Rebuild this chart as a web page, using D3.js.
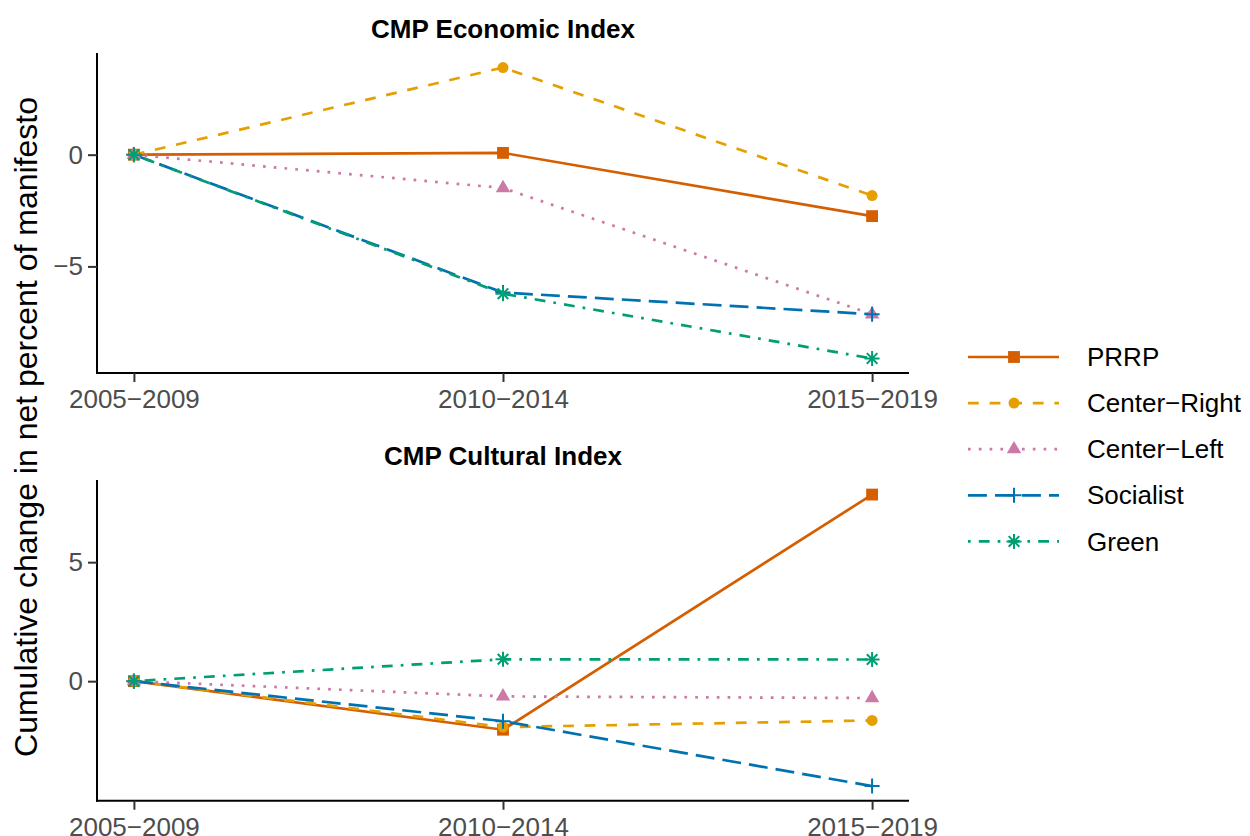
<!DOCTYPE html>
<html lang="en">
<head>
	<meta charset="UTF-8">
	<title>CMP indices</title>
	<style type="text/css">
		body {
			margin: 0;
			background: white;
			font-family: "Liberation Sans", Arial, Helvetica, sans-serif;
		}
		.axis text {
			font-size: 26px;
			fill: #4D4D4D;
			font-family: "Liberation Sans", Arial, Helvetica, sans-serif;
		}
		.axis .domain {
			stroke: black;
			stroke-width: 2px;
		}
		.axis .tick line {
			stroke: #333333;
			stroke-width: 2px;
		}
		.series {
			fill: none;
			stroke-width: 2.7px;
			stroke-linecap: butt;
		}
	</style>
	<script src="https://d3js.org/d3.v7.min.js"></script>
</head>
<body>
<script type="text/javascript">
	// data
	var periods = ['2005\u22122009', '2010\u22122014', '2015\u22122019'];
	var parties = ['PRRP', 'Center\u2212Right', 'Center\u2212Left', 'Socialist', 'Green'];
	var colors = ['#D55E00', '#E69F00', '#CC79A7', '#0072B2', '#009E73'];
	var shapes = ['square', 'circle', 'triangle', 'plus', 'asterisk'];
	var dashes = ['none', '4 4', '1 3', '7 3', '1 3 4 3'];

	var econPRRP = [0, 0.08, -2.75];
	var econCenterRight = [0, 3.9, -1.83];
	var econCenterLeft = [0, -1.49, -7.14];
	var econSocialist = [0, -6.17, -7.14];
	var econGreen = [0, -6.22, -9.12];

	var cultPRRP = [0, -2.04, 7.84];
	var cultCenterRight = [0, -1.93, -1.65];
	var cultCenterLeft = [0, -0.64, -0.71];
	var cultSocialist = [0, -1.68, -4.41];
	var cultGreen = [0, 0.92, 0.91];

	var econTicks = [-5, 0];
	var cultTicks = [0, 5];

	var lwd = 2.7;

	var fullWidth = 1250, fullHeight = 836;
	var svg = d3.select('body').append('svg')
		.attr('width', fullWidth)
		.attr('height', fullHeight);

	var panelLeft = 97, panelRight = 909;

	// continuous x (1..3) with 5% expansion like ggplot
	var xScale = d3.scaleLinear()
		.domain([0.9, 3.1])
		.range([panelLeft, panelRight]);

	var panels = [
		{title: 'CMP Economic Index', top: 53, bottom: 373,
		 series: [econPRRP, econCenterRight, econCenterLeft, econSocialist, econGreen], ticks: econTicks},
		{title: 'CMP Cultural Index', top: 480, bottom: 800.7,
		 series: [cultPRRP, cultCenterRight, cultCenterLeft, cultSocialist, cultGreen], ticks: cultTicks}
	];

	function symbolPath(shape) {
		if (shape === 'square') return d3.symbol().type(d3.symbolSquare).size(140)();
		if (shape === 'circle') return d3.symbol().type(d3.symbolCircle).size(95)();
		if (shape === 'triangle') return d3.symbol().type(d3.symbolTriangle).size(90)();
		if (shape === 'plus') return 'M-7.5,0H7.5M0,-7.5V7.5';
		var a = 7.5, b = 5.3;
		return 'M-' + a + ',0H' + a + 'M0,-' + a + 'V' + a +
			'M-' + b + ',-' + b + 'L' + b + ',' + b + 'M-' + b + ',' + b + 'L' + b + ',-' + b;
	}

	function drawPoint(g, shape, color, x, y) {
		var open = (shape === 'plus' || shape === 'asterisk');
		g.append('path')
			.attr('d', symbolPath(shape))
			.attr('transform', 'translate(' + x + ',' + y + ')')
			.style('fill', open ? 'none' : color)
			.style('stroke', open ? color : 'none')
			.style('stroke-width', open ? 2 : 0);
	}

	function dashArray(d) {
		if (d === 'none') return null;
		return d.split(' ').map(function(v){ return +v * lwd; }).join(' ');
	}

	panels.forEach(function(p) {
		var all = [].concat.apply([], p.series);
		var ext = d3.extent(all);
		var pad = (ext[1] - ext[0]) * 0.05;
		var yScale = d3.scaleLinear()
			.domain([ext[0] - pad, ext[1] + pad])
			.range([p.bottom, p.top]);

		var g = svg.append('g');

		// title
		g.append('text')
			.attr('x', (panelLeft + panelRight) / 2)
			.attr('y', p.top - 15)
			.attr('text-anchor', 'middle')
			.style('font-size', '26px')
			.style('font-weight', 'bold')
			.style('fill', 'black')
			.text(p.title);

		// axes
		var xAxis = d3.axisBottom(xScale)
			.tickValues([1, 2, 3])
			.tickFormat(function(d){ return periods[d - 1]; })
			.tickSize(9)
			.tickSizeOuter(0)
			.tickPadding(8);
		var gx = g.append('g')
			.attr('class', 'axis')
			.attr('transform', 'translate(0,' + p.bottom + ')')
			.call(xAxis);
		gx.select('.domain').attr('d', 'M' + (panelLeft - 1) + ',0H' + panelRight);

		var yAxis = d3.axisLeft(yScale)
			.tickValues(p.ticks)
			.tickFormat(function(d){ return d < 0 ? '\u2212' + Math.abs(d) : d; })
			.tickSize(9)
			.tickSizeOuter(0)
			.tickPadding(5);
		var gy = g.append('g')
			.attr('class', 'axis')
			.attr('transform', 'translate(' + panelLeft + ',0)')
			.call(yAxis);
		gy.select('.domain').attr('d', 'M0,' + p.top + 'V' + (p.bottom + 1));

		// lines
		var line = d3.line()
			.x(function(d, i){ return xScale(i + 1); })
			.y(function(d){ return yScale(d); });

		p.series.forEach(function(s, k) {
			g.append('path')
				.datum(s)
				.attr('class', 'series')
				.attr('d', line)
				.style('stroke', colors[k])
				.style('stroke-dasharray', dashArray(dashes[k]));
		});

		// points
		p.series.forEach(function(s, k) {
			s.forEach(function(v, i) {
				drawPoint(g, shapes[k], colors[k], xScale(i + 1), yScale(v));
			});
		});
	});

	// y axis title
	svg.append('text')
		.attr('transform', 'translate(37,427) rotate(-90)')
		.attr('text-anchor', 'middle')
		.style('font-size', '32px')
		.style('fill', 'black')
		.text('Cumulative change in net percent of manifesto');

	// legend
	var legend = svg.append('g').attr('transform', 'translate(968,357)');
	parties.forEach(function(name, k) {
		var row = legend.append('g').attr('transform', 'translate(0,' + (k * 46.1) + ')');
		row.append('path')
			.attr('d', 'M0,0H91')
			.attr('class', 'series')
			.style('stroke', colors[k])
			.style('stroke-dasharray', dashArray(dashes[k]));
		drawPoint(row, shapes[k], colors[k], 46, 0);
		row.append('text')
			.attr('x', 119)
			.attr('y', 0)
			.attr('dy', '0.35em')
			.style('font-size', '26px')
			.style('fill', 'black')
			.text(name);
	});
</script>
</body>
</html>
